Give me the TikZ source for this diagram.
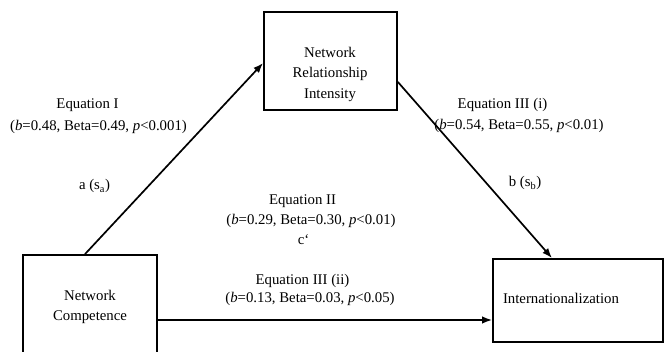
\documentclass[tikz,border=0pt]{standalone}
\usepackage{fontspec}
\setmainfont{Liberation Serif}
\usetikzlibrary{arrows.meta}
\begin{document}
\begin{tikzpicture}[x=1pt,y=1pt,
  txt/.style={font=\fontsize{14.8}{20.5}\selectfont, inner sep=0pt},
  box/.style={draw=black, line width=1.8pt, inner sep=0pt},
  arr/.style={line width=1.7pt, -{Latex[length=10pt,width=7.5pt]}}]
\useasboundingbox (0,0) rectangle (666,-352);
% boxes
\node[box, minimum width=133pt, minimum height=98pt] (nri) at (330.5,-61) {};
\node[txt, align=center] (nritext) at (330,-74) {Network\\Relationship\\Intensity};
\node[box, txt, align=center, minimum width=134pt, minimum height=104pt] (nc) at (90,-307) {Network\\Competence};
\node[box, txt, text depth=5pt, minimum width=170pt, minimum height=83pt, text width=150pt, align=left, inner xsep=10pt] (int) at (578,-300.5) {Internationalization};
% connectors
\draw[arr] ([xshift=-5pt]nc.north) -- ([yshift=-2pt]nri.west);
\draw[arr] ([yshift=-21pt]nri.east) -- ([xshift=-26pt]int.north);
\draw[arr] ([yshift=-13pt]nc.east) -- ([yshift=-13pt]nc.east -| int.west);
% labels
\node[txt, anchor=base] (e1a) at (87.5,-109) {Equation I};
\node[txt, anchor=base] (e1b) at (98.5,-131) {(\textit{b}=0.48, Beta=0.49, \textit{p}<0.001)};
\node[txt, anchor=base] (la) at (94.5,-190) {a (s\textsubscript{a})};
\node[txt, anchor=base] (e3a) at (502.5,-109) {Equation III (i)};
\node[txt, anchor=base] (e3b) at (519,-130) {(\textit{b}=0.54, Beta=0.55, \textit{p}<0.01)};
\node[txt, anchor=base] (lb) at (525,-187) {b (s\textsubscript{b})};
\node[txt, anchor=base] (e2a) at (302.5,-205) {Equation II};
\node[txt, anchor=base] (e2b) at (311,-225) {(\textit{b}=0.29, Beta=0.30, \textit{p}<0.01)};
\node[txt, anchor=base] (lc) at (303.5,-245) {c\char"60};
\node[txt, anchor=base] (e4a) at (302.5,-285) {Equation III (ii)};
\node[txt, anchor=base] (e4b) at (310,-303) {(\textit{b}=0.13, Beta=0.03, \textit{p}<0.05)};
\end{tikzpicture}
\end{document}
